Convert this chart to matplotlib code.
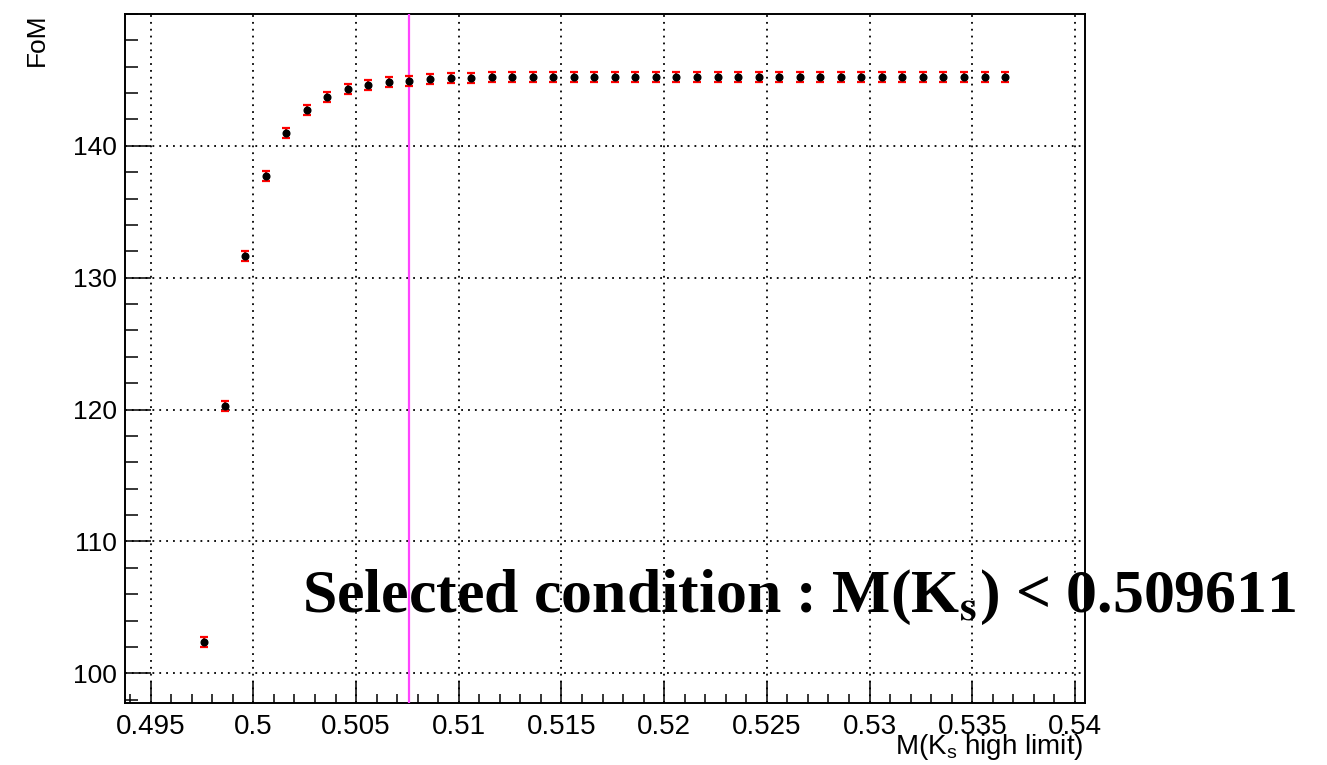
import numpy as np
import matplotlib
matplotlib.use('Agg')
import matplotlib.pyplot as plt

plt.rcParams['font.family'] = ['Liberation Sans', 'DejaVu Sans']
plt.rcParams['mathtext.fontset'] = 'custom'
plt.rcParams['mathtext.rm'] = 'Liberation Sans'

# scan points of the upper mass cut and the figure of merit
mass_cut = [0.4976, 0.4986, 0.4996, 0.5006, 0.5016, 0.5026, 0.5036, 0.5046,
            0.5056, 0.5066, 0.5076, 0.5086, 0.5096, 0.5106, 0.5116, 0.5126,
            0.5136, 0.5146, 0.5156, 0.5166, 0.5176, 0.5186, 0.5196, 0.5206,
            0.5216, 0.5226, 0.5236, 0.5246, 0.5256, 0.5266, 0.5276, 0.5286,
            0.5296, 0.5306, 0.5316, 0.5326, 0.5336, 0.5346, 0.5356, 0.5366]
fom = [102.40, 120.29, 131.66, 137.75, 140.96, 142.73, 143.74, 144.30,
       144.62, 144.83, 144.93, 145.06, 145.13, 145.18, 145.22, 145.24,
       145.25, 145.25, 145.25, 145.25, 145.25, 145.25, 145.25, 145.25,
       145.25, 145.25, 145.25, 145.25, 145.25, 145.25, 145.25, 145.25,
       145.25, 145.25, 145.25, 145.25, 145.25, 145.25, 145.25, 145.25]
fom_err = [0.38] * len(fom)

selected_line = 0.5076
condition_text = 'Selected condition : M(K$_{\\mathbf{s}}$) < 0.509611'

x_ticks = [0.495, 0.5, 0.505, 0.51, 0.515, 0.52, 0.525, 0.53, 0.535, 0.54]
x_ticklabels = ['0.495', '0.5', '0.505', '0.51', '0.515', '0.52', '0.525', '0.53', '0.535', '0.54']
y_ticks = [100, 110, 120, 130, 140]

fig = plt.figure(figsize=(13.27, 7.65), dpi=100)
ax = fig.add_axes([125 / 1327, 1 - 703 / 765, 960 / 1327, 689 / 765])

ax.errorbar(mass_cut, fom, yerr=fom_err, fmt='o', color='black', markersize=4.8,
            ecolor='red', elinewidth=1.6, capsize=3.2, capthick=1.6, zorder=4)
ax.axvline(selected_line, color='#ff44ff', lw=1.6, zorder=3)

ax.text(0.184, 0.132, condition_text, transform=ax.transAxes, fontsize=44.5,
        family='Liberation Serif', fontweight='bold', math_fontfamily='stix',
        ha='left', va='baseline', clip_on=False, zorder=0.5)

ax.set_xlim(0.49375, 0.54049)
ax.set_ylim(97.75, 150.0)
ax.set_xticks(x_ticks, labels=x_ticklabels)
ax.set_xticks(np.arange(0.494, 0.5405, 0.001), minor=True)
ax.set_yticks(y_ticks)
ax.set_yticks(np.arange(98, 150.1, 2), minor=True)

ax.tick_params(axis='both', which='both', direction='in', top=False, right=False,
               labelsize=19, width=1.1)
ax.tick_params(axis='x', which='major', length=16, pad=8, labelsize=20)
ax.tick_params(axis='x', which='minor', length=6.5)
ax.tick_params(axis='y', which='major', length=19, pad=6)
ax.tick_params(axis='y', which='minor', length=9.5)

ax.set_axisbelow(False)
ax.grid(True, which='major', color='black', linestyle=(0, (1, 2.8)), lw=1.3)
for s in ax.spines.values():
    s.set_linewidth(1.4)

fig.text(1083 / 1327, 1 - 754 / 765, 'M(K$_{\\mathrm{s}}$ high limit)', fontsize=20,
         ha='right', va='baseline')
fig.text(36.5 / 1327, 1 - 13 / 765, 'FoM', fontsize=19, rotation=90,
         ha='center', va='top')

fig.savefig('out.png', dpi=100)
